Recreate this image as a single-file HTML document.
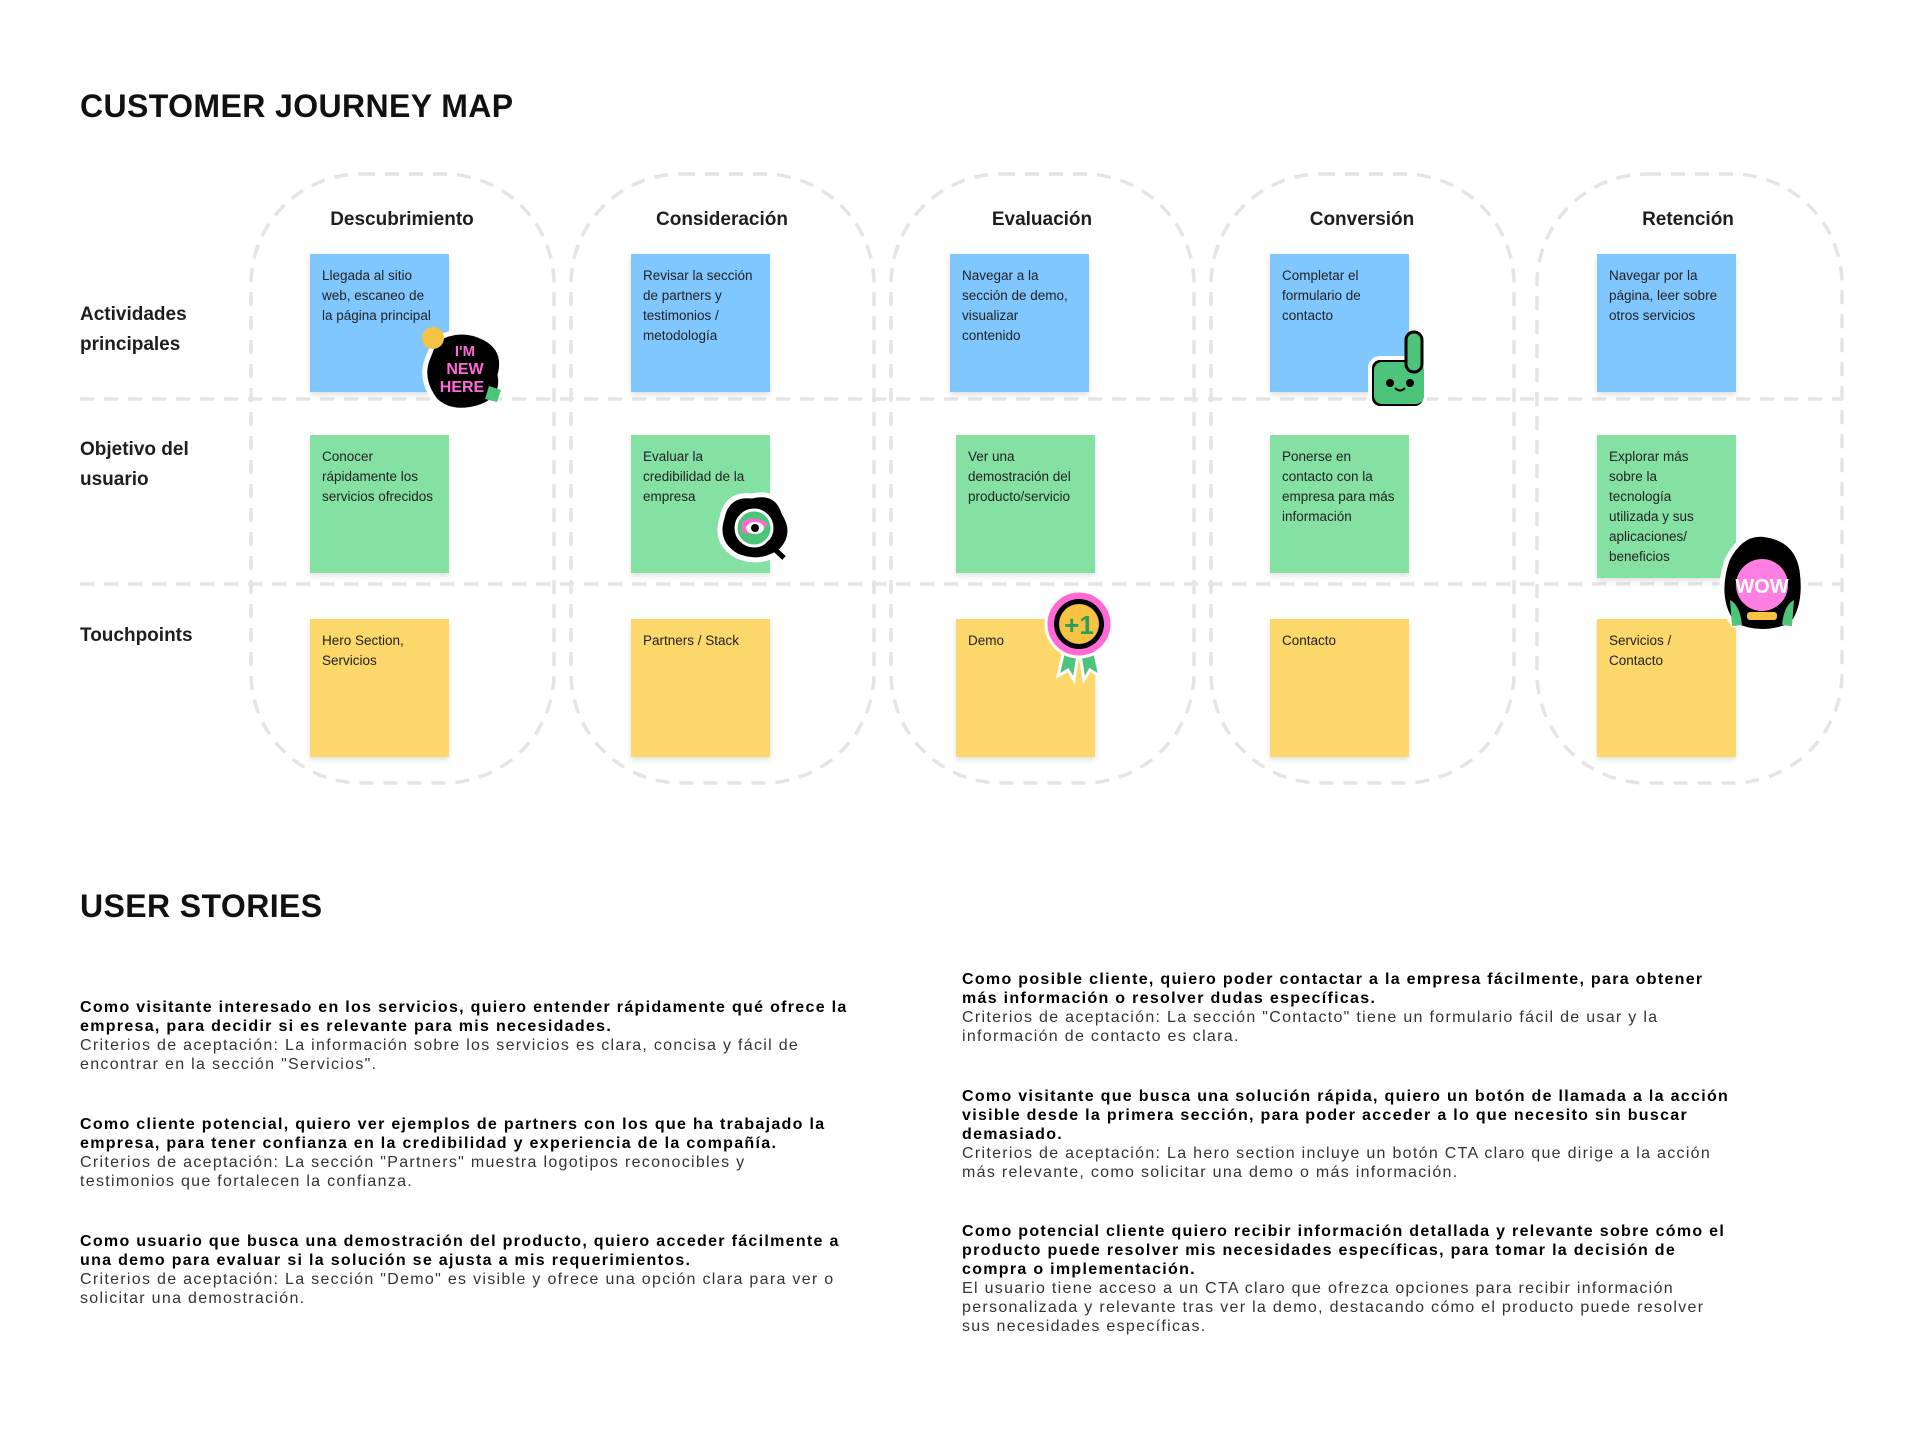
<!DOCTYPE html>
<html><head><meta charset="utf-8">
<style>
*{margin:0;padding:0;box-sizing:border-box}
body{width:1920px;height:1430px;background:#fff;position:relative;overflow:hidden;font-family:"Liberation Sans",Arial,sans-serif;color:#1e1e1e}
.abs{position:absolute}
.h1{font-size:32px;font-weight:bold;letter-spacing:0.4px;color:#111;line-height:1}
.hd{font-size:19px;font-weight:bold;text-align:center;width:304px;line-height:24px}
.rl{font-size:19px;font-weight:bold;line-height:30px;left:80px}
.st{width:139px;height:138px;padding:12px 14px 0 12px;font-size:13.5px;line-height:20px;color:#222;box-shadow:0 3px 5px rgba(0,0,0,.12)}
.b{background:#80c7ff}.g{background:#85e0a3}.y{background:#fcd76a}
.us{font-size:16px;line-height:19px;letter-spacing:1.3px;white-space:nowrap;color:#333}
.us b{color:#000}
</style></head><body>
<div class="abs h1" style="left:80px;top:90px">CUSTOMER JOURNEY MAP</div>

<svg class="abs" style="left:0;top:0" width="1920" height="800">
<g fill="none" stroke="#e4e4e4" stroke-width="3.5" stroke-dasharray="14 10">
<rect x="251" y="174" width="303" height="609" rx="110"/>
<rect x="571" y="174" width="303" height="609" rx="110"/>
<rect x="891" y="174" width="303" height="609" rx="110"/>
<rect x="1211" y="174" width="303" height="609" rx="110"/>
<rect x="1537" y="174" width="305" height="609" rx="110"/>
<line x1="80" y1="399" x2="1842" y2="399"/>
<line x1="80" y1="584" x2="1842" y2="584"/>
</g>
</svg>

<div class="abs hd" style="left:250px;top:208px">Descubrimiento</div>
<div class="abs hd" style="left:570px;top:208px">Consideración</div>
<div class="abs hd" style="left:890px;top:208px">Evaluación</div>
<div class="abs hd" style="left:1210px;top:208px">Conversión</div>
<div class="abs hd" style="left:1536px;top:208px">Retención</div>

<div class="abs rl" style="top:300px">Actividades<br>principales</div>
<div class="abs rl" style="top:435px">Objetivo del<br>usuario</div>
<div class="abs rl" style="top:621px">Touchpoints</div>

<div class="abs st b" style="left:310px;top:254px">Llegada al sitio web, escaneo de la página principal</div>
<div class="abs st b" style="left:631px;top:254px">Revisar la sección de partners y testimonios / metodología</div>
<div class="abs st b" style="left:950px;top:254px">Navegar a la sección de demo, visualizar contenido</div>
<div class="abs st b" style="left:1270px;top:254px">Completar el formulario de contacto</div>
<div class="abs st b" style="left:1597px;top:254px">Navegar por la página, leer sobre otros servicios</div>

<div class="abs st g" style="left:310px;top:435px">Conocer rápidamente los servicios ofrecidos</div>
<div class="abs st g" style="left:631px;top:435px">Evaluar la credibilidad de la empresa</div>
<div class="abs st g" style="left:956px;top:435px">Ver una demostración del producto/servicio</div>
<div class="abs st g" style="left:1270px;top:435px">Ponerse en contacto con la empresa para más información</div>
<div class="abs st g" style="left:1597px;top:435px;height:143px">Explorar más sobre la tecnología utilizada y sus aplicaciones/ beneficios</div>

<div class="abs st y" style="left:310px;top:619px">Hero Section, Servicios</div>
<div class="abs st y" style="left:631px;top:619px">Partners / Stack</div>
<div class="abs st y" style="left:956px;top:619px">Demo</div>
<div class="abs st y" style="left:1270px;top:619px">Contacto</div>
<div class="abs st y" style="left:1597px;top:619px">Servicios / Contacto</div>

<!-- stickers -->
<svg class="abs" style="left:415px;top:320px" width="95" height="95" viewBox="0 0 95 95">
<path d="M20 20 Q45 5 70 18 Q92 30 85 55 Q90 80 62 88 Q35 95 20 80 Q5 60 12 40 Z" fill="#000" stroke="#fff" stroke-width="5"/>
<circle cx="18" cy="18" r="11" fill="#f5c242"/>
<path d="M74 66 l12 4 -4 12 -12 -3z" fill="#4cc47a"/>
<text x="50" y="36" font-family="Liberation Sans" font-weight="bold" font-size="15" fill="#ff6ad5" text-anchor="middle">I'M</text>
<text x="50" y="54" font-family="Liberation Sans" font-weight="bold" font-size="16" fill="#ff6ad5" text-anchor="middle">NEW</text>
<text x="47" y="72" font-family="Liberation Sans" font-weight="bold" font-size="16" fill="#ff6ad5" text-anchor="middle">HERE</text>
</svg>

<svg class="abs" style="left:712px;top:488px" width="90" height="80" viewBox="0 0 90 80">
<path d="M10 30 Q15 5 40 8 Q65 2 72 25 Q85 45 70 62 Q50 78 25 68 Q2 55 10 30 Z" fill="#000" stroke="#fff" stroke-width="5"/>
<circle cx="42" cy="40" r="18" fill="#4cc47a" stroke="#fff" stroke-width="3"/>
<path d="M30 34 Q42 26 56 36 Q44 50 30 44Z" fill="#ff6ad5"/>
<ellipse cx="43" cy="40" rx="9" ry="6" fill="#fff"/><circle cx="43" cy="40" r="4" fill="#000"/>
<line x1="55" y1="54" x2="72" y2="70" stroke="#000" stroke-width="5"/>
</svg>

<svg class="abs" style="left:1040px;top:586px" width="78" height="100" viewBox="0 0 78 100">
<path d="M26 55 L18 90 L28 84 L34 94 L39 62Z M52 55 L60 90 L50 84 L44 94 L39 62Z" fill="#4cc47a" stroke="#fff" stroke-width="3"/>
<circle cx="39" cy="38" r="33" fill="#ff6ad5" stroke="#fff" stroke-width="3"/>
<circle cx="39" cy="38" r="25" fill="#000"/>
<circle cx="39" cy="38" r="20" fill="#f5c242"/>
<text x="39" y="48" font-family="Liberation Sans" font-weight="bold" font-size="26" fill="#2e9d5c" text-anchor="middle">+1</text>
</svg>

<svg class="abs" style="left:1362px;top:328px" width="80" height="85" viewBox="0 0 80 85">
<rect x="8" y="30" width="55" height="50" rx="10" fill="#000" stroke="#fff" stroke-width="4"/>
<rect x="12" y="34" width="50" height="42" rx="8" fill="#4cc47a"/>
<rect x="44" y="4" width="16" height="40" rx="8" fill="#4cc47a" stroke="#000" stroke-width="3"/>
<circle cx="28" cy="55" r="4" fill="#000"/><circle cx="48" cy="55" r="4" fill="#000"/>
<path d="M33 60 Q38 65 43 60" stroke="#000" stroke-width="2" fill="none"/>
</svg>

<svg class="abs" style="left:1712px;top:530px" width="100" height="110" viewBox="0 0 100 110">
<path d="M15 30 Q30 0 55 5 Q85 10 90 40 Q95 75 80 95 Q50 108 22 95 Q2 70 15 30Z" fill="#000" stroke="#fff" stroke-width="5"/>
<circle cx="50" cy="55" r="26" fill="#ff7ee2"/>
<rect x="35" y="82" width="30" height="8" rx="3" fill="#f5c242"/>
<text x="50" y="63" font-family="Liberation Sans" font-weight="bold" font-size="20" fill="#fff" text-anchor="middle">WOW</text>
<path d="M18 70 Q28 75 30 95 L20 96Z M82 70 Q72 75 70 95 L80 96Z" fill="#4cc47a"/>
</svg>

<div class="abs h1" style="left:80px;top:890px">USER STORIES</div>

<div class="abs us" style="left:80px;top:998px"><b>Como visitante interesado en los servicios, quiero entender rápidamente qué ofrece la<br>empresa, para decidir si es relevante para mis necesidades.</b><br>Criterios de aceptación: La información sobre los servicios es clara, concisa y fácil de<br>encontrar en la sección "Servicios".</div>

<div class="abs us" style="left:80px;top:1115px"><b>Como cliente potencial, quiero ver ejemplos de partners con los que ha trabajado la<br>empresa, para tener confianza en la credibilidad y experiencia de la compañía.</b><br>Criterios de aceptación: La sección "Partners" muestra logotipos reconocibles y<br>testimonios que fortalecen la confianza.</div>

<div class="abs us" style="left:80px;top:1232px"><b>Como usuario que busca una demostración del producto, quiero acceder fácilmente a<br>una demo para evaluar si la solución se ajusta a mis requerimientos.</b><br>Criterios de aceptación: La sección "Demo" es visible y ofrece una opción clara para ver o<br>solicitar una demostración.</div>

<div class="abs us" style="left:962px;top:970px"><b>Como posible cliente, quiero poder contactar a la empresa fácilmente, para obtener<br>más información o resolver dudas específicas.</b><br>Criterios de aceptación: La sección "Contacto" tiene un formulario fácil de usar y la<br>información de contacto es clara.</div>

<div class="abs us" style="left:962px;top:1087px"><b>Como visitante que busca una solución rápida, quiero un botón de llamada a la acción<br>visible desde la primera sección, para poder acceder a lo que necesito sin buscar<br>demasiado.</b><br>Criterios de aceptación: La hero section incluye un botón CTA claro que dirige a la acción<br>más relevante, como solicitar una demo o más información.</div>

<div class="abs us" style="left:962px;top:1222px"><b>Como potencial cliente quiero recibir información detallada y relevante sobre cómo el<br>producto puede resolver mis necesidades específicas, para tomar la decisión de<br>compra o implementación.</b><br>El usuario tiene acceso a un CTA claro que ofrezca opciones para recibir información<br>personalizada y relevante tras ver la demo, destacando cómo el producto puede resolver<br>sus necesidades específicas.</div>
</body></html>
